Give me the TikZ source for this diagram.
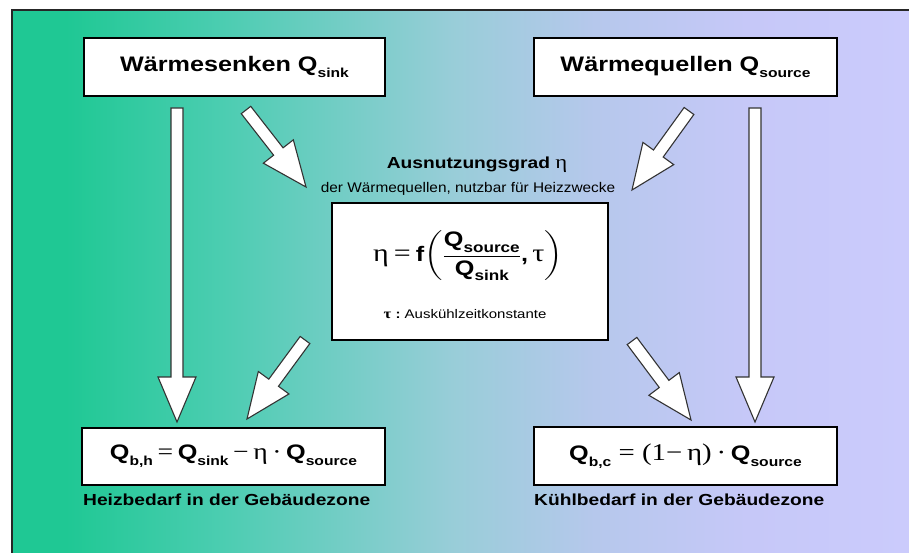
\documentclass[tikz,border=0pt]{standalone}
\usepackage{fix-cm}
\usepackage{amsmath}
\usepackage{graphicx}
\usepackage{fontspec}
\setmainfont{Liberation Sans}
\newfontfamily\gr{Liberation Serif}
\usetikzlibrary{calc}
\definecolor{cA}{HTML}{1FC894}
\definecolor{cB}{HTML}{4DCDB2}
\definecolor{cC}{HTML}{98CDD8}
\definecolor{cD}{HTML}{B6C8EC}
\definecolor{cE}{HTML}{C6C8F8}
\definecolor{cF}{HTML}{CBCBFC}
\pgfdeclarehorizontalshading{bgsh}{100bp}{color(0bp)=(cA); color(28bp)=(cA); color(37bp)=(cB); color(49.5bp)=(cC); color(57.5bp)=(cD); color(66bp)=(cE); color(75bp)=(cF); color(100bp)=(cF)}
\newcommand{\wide}[1]{\scalebox{1.2}[1]{#1}}
\newcommand{\lo}[1]{\raisebox{-0.28em}{\scalebox{0.62}{#1}}}
\newcommand{\mlo}[1]{\raisebox{-0.25em}{\scalebox{0.68}{#1}}}
\newcommand{\fs}[1]{\fontsize{#1}{#1}\selectfont}
\newcommand{\barrow}[2]{%
  \coordinate (hb) at ($(#2)!45pt!(#1)$);
  \draw[blockarrow] ($(#1)!6pt!90:(#2)$) -- ($(hb)!6pt!90:(#2)$) -- ($(hb)!19pt!90:(#2)$) -- (#2) -- ($(hb)!19pt!-90:(#2)$) -- ($(hb)!6pt!-90:(#2)$) -- ($(#1)!6pt!-90:(#2)$) -- cycle;}
\tikzset{
  box/.style={draw=black, line width=1.6pt, fill=white, inner sep=0pt},
  blockarrow/.style={draw=black!80, fill=white, line width=1.1pt, line join=miter},
  plain/.style={inner sep=0pt}
}
\begin{document}
\begin{tikzpicture}[x=1pt,y=-1pt]
\useasboundingbox (0,0) rectangle (909,553);
\fill[white] (0,0) rectangle (909,553);
\shade[shading=bgsh] (12,10) rectangle (909,553);
\draw[line width=2pt, black!85] (12,553) -- (12,10) -- (909,10);

% boxes
\node[box, minimum width=301pt, minimum height=58pt] (sink) at (234.5,67)
  {\wide{\fs{21}\bfseries Wärmesenken Q\lo{sink}}};
\node[box, minimum width=303pt, minimum height=58pt] (source) at (685.5,67)
  {\wide{\fs{21}\bfseries Wärmequellen Q\lo{source}}};
\node[box, minimum width=276pt, minimum height=137pt] (eta) at (470,271.5) {};
\node[plain] (title) at (477,165)
  {\wide{\fs{16}\bfseries Ausnutzungsgrad {\gr\mdseries\fs{19}η}}};
\node[plain] (subtitle) at (468,189)
  {\scalebox{1.1}[1]{\fs{14}der Wärmequellen, nutzbar für Heizzwecke}};
\node[plain] (formula) at (468,256)
  {\wide{\fs{21}\bfseries {\gr\mdseries\fs{25}η\,=\,}f$\left(\dfrac{\text{Q\mlo{source}}}{\text{Q\mlo{sink}}}\text{,}\,\text{\gr\mdseries\fs{25}τ}\right)$}};
\node[plain] (tau) at (465,314)
  {\wide{\fs{12.5}{\gr\bfseries\fs{14}τ}\ \textbf{:}\ Auskühlzeitkonstante}};
\node[box, minimum width=303pt, minimum height=57pt] (heat) at (233.5,456.5)
  {\wide{\fs{21}\bfseries Q\lo{b,h}{\gr\mdseries\fs{23}\,=\,}Q\lo{sink}{\gr\mdseries\fs{23}\,−\,η\,·\,}Q\lo{source}}};
\node[box, minimum width=303pt, minimum height=58pt] (cool) at (685.5,456)
  {\wide{\fs{21}\bfseries Q\lo{b,c}{\gr\mdseries\fs{24}\ =\ (1−\,η)\,·\,}Q\lo{source}}};
\node[plain, anchor=west] (heatlbl) at (83,500)
  {\wide{\fs{16}\bfseries Heizbedarf in der Gebäudezone}};
\node[plain, anchor=west] (coollbl) at (534,500)
  {\wide{\fs{16}\bfseries Kühlbedarf in der Gebäudezone}};

% arrow end points
\coordinate (v1s) at (177,108);
\coordinate (v1e) at (177,422);
\coordinate (v2s) at (755,108);
\coordinate (v2e) at (755,422);
\coordinate (d1s) at (246,110);
\coordinate (d1e) at (306,187);
\coordinate (d2s) at (689,111);
\coordinate (d2e) at (632,190);
\coordinate (d3s) at (305,340);
\coordinate (d3e) at (247,419);
\coordinate (d4s) at (632,341);
\coordinate (d4e) at (691,420);

\barrow{v1s}{v1e}
\barrow{v2s}{v2e}
\barrow{d1s}{d1e}
\barrow{d2s}{d2e}
\barrow{d3s}{d3e}
\barrow{d4s}{d4e}
\end{tikzpicture}
\end{document}
